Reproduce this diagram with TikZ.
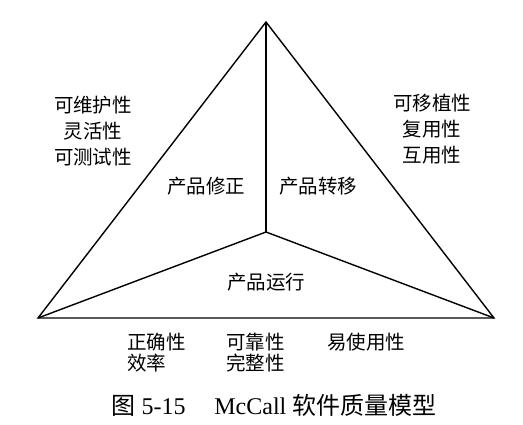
\documentclass[tikz,border=0pt]{standalone}
\usepackage{fontspec}
\setmainfont{Liberation Serif}
\newfontfamily\cjk{Noto Sans CJK SC}
\begin{document}
\begin{tikzpicture}[x=1pt,y=-1pt,
  lbl/.style={font=\cjk\fontsize{19.5}{26}\selectfont, inner sep=0pt, align=center},
  lbll/.style={font=\cjk\fontsize{19.5}{21}\selectfont, inner sep=0pt, align=left},
  edge/.style={line width=1.4pt, black}]
\useasboundingbox (0,0) rectangle (523,425);
\coordinate (T) at (266,22);
\coordinate (L) at (38,318);
\coordinate (R) at (494,318);
\coordinate (C) at (266,232);
\draw[edge, line join=miter] (T) -- (L) -- (R) -- cycle;
\draw[edge] (T) -- (C);
\draw[edge] (L) -- (C) -- (R);
\node[lbl] (m1) at (93,131) {可维护性\\灵活性\\可测试性};
\node[lbl] (m2) at (432,129) {可移植性\\复用性\\互用性};
\node[lbl] (pr) at (206,186) {产品修正};
\node[lbl] (pt) at (318,186) {产品转移};
\node[lbl] (po) at (266,282) {产品运行};
\node[lbll, anchor=north west] (o1) at (127,333) {正确性\\效率};
\node[lbll, anchor=north west] (o2) at (226,333) {可靠性\\完整性};
\node[lbll, anchor=north west] (o3) at (327,333) {易使用性};
\node[inner sep=0pt] (cap) at (274,405) {\fontsize{24}{28}\selectfont{\cjk 图} 5-15\hspace{1.2em}McCall {\cjk 软件质量模型}};
\end{tikzpicture}
\end{document}
